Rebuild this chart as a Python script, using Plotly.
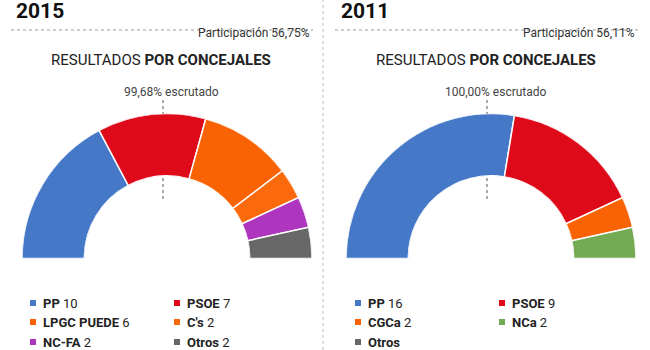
import plotly.graph_objects as go

W, H = 650, 350

# ---- data ----
years = ["2015", "2011"]
participacion = ["56,75%", "56,11%"]
escrutado = ["99,68%", "100,00%"]

parties_2015 = ["PP", "PSOE", "LPGC PUEDE", "C's", "NC-FA", "Otros"]
seats_2015 = [10, 7, 6, 2, 2, 2]
colors_2015 = ["#4678c8", "#df0a19", "#f96303", "#fa6a0c", "#ae36be", "#676767"]

parties_2011 = ["PP", "PSOE", "CGCa", "NCa", "Otros"]
seats_2011 = [16, 9, 2, 2, 0]
colors_2011 = ["#4678c8", "#df0a19", "#f96303", "#75aa55", "#676767"]

panels = [
    dict(parties=parties_2015, seats=seats_2015, colors=colors_2015, x0=0),
    dict(parties=parties_2011, seats=seats_2011, colors=colors_2011, x0=325),
]


def px(x):
    return x / W


def py(y):
    return 1 - y / H


fig = go.Figure()
annotations = []
shapes = []

for i, p in enumerate(panels):
    x0 = p["x0"]
    total = sum(p["seats"])
    thetas, widths, cols = [], [], []
    cum = 0
    for s, c in zip(p["seats"], p["colors"]):
        if s > 0:
            w = s * 180.0 / total
            thetas.append(cum + w / 2)
            widths.append(w)
            cols.append(c)
            cum += w
    pname = "polar" if i == 0 else "polar2"
    fig.add_trace(go.Barpolar(
        r=[1] * len(thetas), theta=thetas, width=widths,
        marker=dict(color=cols, line=dict(color="white", width=1.5)),
        subplot=pname, hoverinfo="skip", showlegend=False,
    ))
    cx_l = x0 + 22 if i == 0 else x0 + 21
    cx_r = x0 + 312 if i == 0 else x0 + 311
    fig.layout[pname] = dict(
        domain=dict(x=[px(cx_l), px(cx_r)], y=[py(258.5), py(113.5)]),
        sector=[0, 180], hole=0.57, bgcolor="rgba(0,0,0,0)",
        angularaxis=dict(visible=False, rotation=180, direction="clockwise"),
        radialaxis=dict(visible=False, range=[0, 1]),
    )

    # year title
    annotations.append(dict(x=px(x0 + 14), y=py(11), text="<b>%s</b>" % years[i],
                            xanchor="left", yanchor="middle", showarrow=False,
                            font=dict(family="Roboto", size=21, color="#111")))
    # dotted rule
    lx0 = x0 + 11 if i == 0 else x0 + 10
    shapes.append(dict(type="line", xref="paper", yref="paper",
                       x0=px(lx0), x1=px(x0 + 313), y0=py(30), y1=py(30),
                       line=dict(color="#999", width=1, dash="dot")))
    annotations.append(dict(x=px(x0 + 312), y=py(33), text="Participación %s" % participacion[i],
                            xanchor="right", yanchor="middle", showarrow=False,
                            font=dict(family="Roboto", size=12, color="#333")))
    annotations.append(dict(x=px(x0 + 161), y=py(60), text="RESULTADOS <b>POR CONCEJALES</b>",
                            xanchor="center", yanchor="middle", showarrow=False,
                            font=dict(family="Roboto", size=15, color="#222")))
    annotations.append(dict(x=px(x0 + 171), y=py(92), text="%s escrutado" % escrutado[i],
                            xanchor="center", yanchor="middle", showarrow=False,
                            font=dict(family="Roboto", size=12, color="#444")))
    dx = x0 + 163 if i == 0 else x0 + 162
    shapes.append(dict(type="line", xref="paper", yref="paper", layer="below",
                       x0=px(dx), x1=px(dx), y0=py(100), y1=py(199),
                       line=dict(color="#555", width=1, dash="dot")))

    # legend
    for k, (name, s, c) in enumerate(zip(p["parties"], p["seats"], p["colors"])):
        row, col = k // 2, k % 2
        sx = x0 + (30 if col == 0 else 174)
        sy = [303, 322, 342][row]
        shapes.append(dict(type="rect", xref="paper", yref="paper",
                           x0=px(sx), x1=px(sx + 6), y0=py(sy - 3), y1=py(sy + 3),
                           fillcolor=c, line=dict(width=0)))
        label = "<b>%s</b> %d" % (name, s) if s > 0 else "<b>%s</b>" % name
        annotations.append(dict(x=px(sx + 11), y=py(sy), text=label,
                                xanchor="left", yanchor="middle", showarrow=False,
                                font=dict(family="Roboto", size=13, color="#222")))

# vertical divider
shapes.append(dict(type="line", xref="paper", yref="paper",
                   x0=px(323), x1=px(323), y0=0, y1=1,
                   line=dict(color="#bbb", width=1, dash="dot")))

fig.update_layout(
    width=W, height=H, margin=dict(l=0, r=0, t=0, b=0),
    paper_bgcolor="white", plot_bgcolor="white",
    annotations=annotations, shapes=shapes, showlegend=False,
)
fig.write_html("out.html")
